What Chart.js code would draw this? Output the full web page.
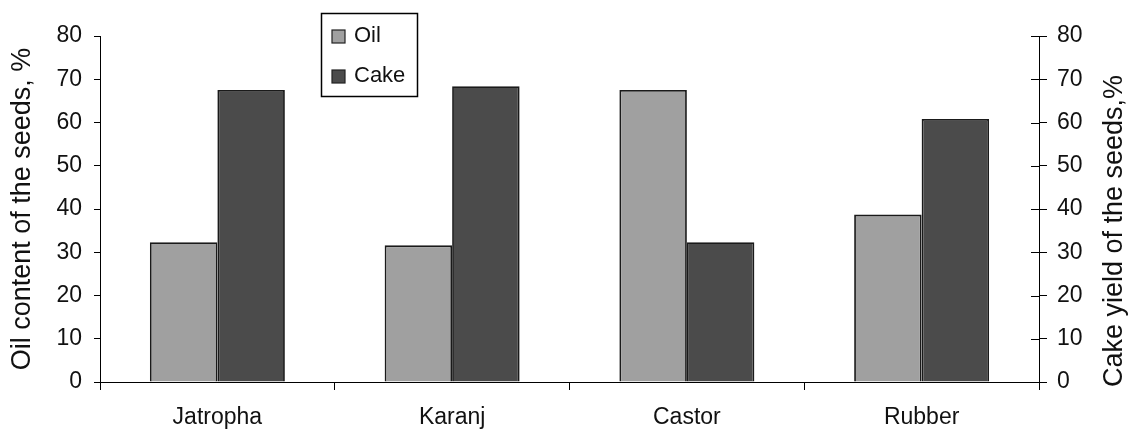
<!DOCTYPE html>
<html>
<head>
<meta charset="utf-8">
<script src="https://cdn.jsdelivr.net/npm/chart.js@4.4.0/dist/chart.umd.min.js"></script>
<style>
    body { margin: 0; background: #fff; }
    #wrap { width: 1132px; height: 430px; position: relative; }
</style>
</head>
<body>
<div id="wrap"><canvas id="seedChart"></canvas></div>
<script>
const categories = ['Jatropha', 'Karanj', 'Castor', 'Rubber'];
const oilValues = [32.3, 31.6, 67.5, 38.7];
const cakeValues = [67.5, 68.4, 32.3, 60.8];
const tickValues = [0, 10, 20, 30, 40, 50, 60, 70, 80];

const FONT = '"Liberation Sans", Arial, sans-serif';
const INK = '#111';

// draws the boxed legend, the inner half of the right ticks and the right title
const extras = {
    id: 'extras',
    afterDraw(chart) {
        const ctx = chart.ctx;
        const r = chart.scales.y1;
        ctx.save();
        ctx.strokeStyle = '#000';
        ctx.lineWidth = 1;
        r.ticks.forEach(t => {
            const y = Math.round(r.getPixelForValue(t.value)) + 0.5;
            ctx.beginPath();
            ctx.moveTo(r.left - 8, y);
            ctx.lineTo(r.left, y);
            ctx.stroke();
        });

        ctx.fillStyle = INK;
        ctx.font = '27px ' + FONT;
        ctx.textAlign = 'center';
        ctx.textBaseline = 'middle';
        ctx.translate(1115, 231);
        ctx.rotate(-Math.PI / 2);
        ctx.fillText('Cake yield of the seeds,%', 0, 0);
        ctx.restore();

        // legend
        ctx.save();
        ctx.fillStyle = '#fff';
        ctx.fillRect(321, 13, 97, 84);
        ctx.strokeStyle = '#000';
        ctx.lineWidth = 1.5;
        ctx.strokeRect(321.5, 13.5, 96, 83);
        ctx.font = '22px ' + FONT;
        ctx.textAlign = 'left';
        ctx.textBaseline = 'middle';
        const rows = [36, 76];
        chart.data.datasets.forEach((ds, i) => {
            const y = rows[i];
            ctx.fillStyle = ds.backgroundColor;
            ctx.fillRect(332, y - 6, 13, 13);
            ctx.strokeStyle = '#222';
            ctx.lineWidth = 1.2;
            ctx.strokeRect(332, y - 6, 13, 13);
            ctx.fillStyle = INK;
            ctx.fillText(ds.label, 354, y);
        });
        ctx.restore();
    }
};

const ctx = document.getElementById('seedChart').getContext('2d');

const seedChart = new Chart(ctx, {
    type: 'bar',
    data: {
        labels: categories,
        datasets: [{
            label: 'Oil',
            data: oilValues,
            yAxisID: 'y',
            backgroundColor: '#a0a0a0',
            borderColor: '#1a1a1a',
            borderWidth: 1.8
        }, {
            label: 'Cake',
            data: cakeValues,
            yAxisID: 'y1',
            backgroundColor: '#4b4b4b',
            borderColor: '#1a1a1a',
            borderWidth: 1.8
        }]
    },
    options: {
        responsive: true,
        maintainAspectRatio: false,
        animation: false,
        layout: { padding: { top: 36, left: 0, right: 0, bottom: 0 } },
        datasets: {
            bar: { categoryPercentage: 0.575, barPercentage: 1 }
        },
        scales: {
            x: {
                afterFit: s => { s.height = 48; },
                grid: { offset: true, drawOnChartArea: false, tickLength: 8, color: '#000' },
                border: { color: '#000', width: 1 },
                ticks: { color: INK, font: { family: FONT, size: 23 }, padding: 14 }
            },
            y: {
                position: 'left',
                min: 0,
                max: 80,
                afterFit: s => { s.width = 100; },
                afterBuildTicks: s => { s.ticks = tickValues.map(v => ({ value: v })); },
                grid: { drawOnChartArea: false, tickLength: 6, color: '#000' },
                border: { color: '#000', width: 1 },
                ticks: { color: INK, font: { family: FONT, size: 23 }, padding: 12 },
                title: {
                    display: true,
                    text: 'Oil content of the seeds, %',
                    color: INK,
                    font: { family: FONT, size: 27 },
                    padding: { top: 6, bottom: 0 }
                }
            },
            y1: {
                position: 'right',
                min: 0,
                max: 80,
                afterFit: s => { s.width = 93; },
                afterBuildTicks: s => { s.ticks = tickValues.map(v => ({ value: v })); },
                grid: { drawOnChartArea: false, tickLength: 8, color: '#000' },
                border: { color: '#000', width: 1 },
                ticks: { color: INK, font: { family: FONT, size: 23 }, padding: 10 }
            }
        },
        plugins: {
            legend: { display: false },
            tooltip: { enabled: false }
        }
    },
    plugins: [extras]
});
</script>
</body>
</html>
